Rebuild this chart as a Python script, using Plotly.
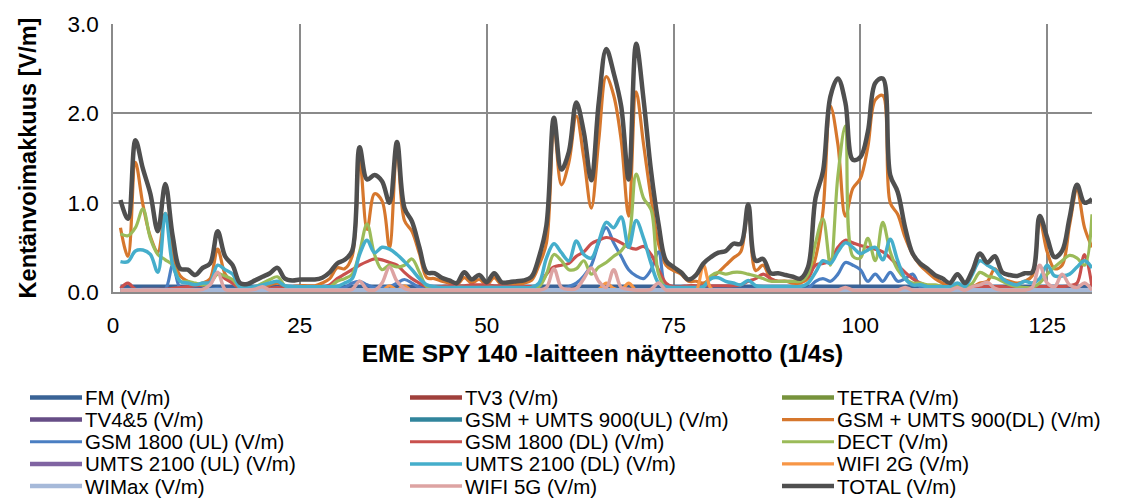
import plotly.graph_objects as go

samples = list(range(1, 132))

fm = [0.06, 0.06, 0.06, 0.06, 0.06, 0.06, 0.06, 0.06, 0.06, 0.06, 0.06, 0.06, 0.06, 0.06, 0.06, 0.06, 0.06, 0.06, 0.06, 0.06,
      0.06, 0.06, 0.06, 0.06, 0.06, 0.06, 0.06, 0.06, 0.06, 0.06, 0.06, 0.06, 0.06, 0.06, 0.06, 0.06, 0.06, 0.06, 0.06, 0.06,
      0.06, 0.06, 0.06, 0.06, 0.06, 0.06, 0.06, 0.06, 0.06, 0.06, 0.06, 0.06, 0.06, 0.06, 0.06, 0.06, 0.06, 0.06, 0.06, 0.06,
      0.06, 0.06, 0.06, 0.06, 0.06, 0.06, 0.06, 0.06, 0.06, 0.06, 0.06, 0.06, 0.06, 0.06, 0.06, 0.06, 0.06, 0.06, 0.06, 0.06,
      0.06, 0.06, 0.06, 0.06, 0.06, 0.06, 0.06, 0.06, 0.06, 0.06, 0.06, 0.06, 0.06, 0.06, 0.06, 0.06, 0.06, 0.06, 0.06, 0.06,
      0.06, 0.06, 0.06, 0.06, 0.06, 0.06, 0.06, 0.06, 0.06, 0.06, 0.06, 0.06, 0.06, 0.06, 0.06, 0.06, 0.06, 0.06, 0.06, 0.06,
      0.06, 0.06, 0.06, 0.06, 0.06, 0.06, 0.06, 0.06, 0.06, 0.06, 0.06]
tv3 = [0.01, 0.02, 0.01, 0.01, 0.01, 0.01, 0.01, 0.01, 0.01, 0.01, 0.01, 0.01, 0.01, 0.01, 0.01, 0.01, 0.01, 0.01, 0.01, 0.01,
       0.01, 0.01, 0.01, 0.01, 0.01, 0.01, 0.01, 0.01, 0.01, 0.01, 0.01, 0.01, 0.01, 0.01, 0.01, 0.01, 0.01, 0.01, 0.01, 0.01,
       0.01, 0.01, 0.01, 0.01, 0.01, 0.01, 0.01, 0.01, 0.01, 0.01, 0.01, 0.01, 0.01, 0.01, 0.01, 0.01, 0.01, 0.01, 0.01, 0.01,
       0.01, 0.01, 0.01, 0.01, 0.01, 0.01, 0.01, 0.01, 0.01, 0.01, 0.01, 0.01, 0.01, 0.01, 0.01, 0.01, 0.01, 0.01, 0.01, 0.01,
       0.01, 0.01, 0.01, 0.01, 0.01, 0.01, 0.01, 0.01, 0.01, 0.01, 0.01, 0.01, 0.01, 0.01, 0.01, 0.01, 0.01, 0.01, 0.01, 0.01,
       0.01, 0.01, 0.01, 0.01, 0.01, 0.01, 0.01, 0.01, 0.01, 0.01, 0.01, 0.01, 0.01, 0.01, 0.01, 0.01, 0.01, 0.01, 0.01, 0.01,
       0.01, 0.01, 0.01, 0.01, 0.01, 0.01, 0.01, 0.01, 0.01, 0.01, 0.01]
tetra = [0.00, 0.00, 0.00, 0.00, 0.00, 0.00, 0.00, 0.00, 0.00, 0.00, 0.00, 0.00, 0.00, 0.00, 0.00, 0.00, 0.00, 0.00, 0.00, 0.00,
         0.00, 0.00, 0.00, 0.00, 0.00, 0.00, 0.00, 0.00, 0.00, 0.00, 0.00, 0.00, 0.00, 0.00, 0.00, 0.00, 0.00, 0.00, 0.00, 0.00,
         0.00, 0.00, 0.00, 0.00, 0.00, 0.00, 0.00, 0.00, 0.00, 0.00, 0.00, 0.00, 0.00, 0.00, 0.00, 0.00, 0.00, 0.00, 0.00, 0.00,
         0.00, 0.00, 0.00, 0.00, 0.00, 0.00, 0.00, 0.00, 0.00, 0.00, 0.00, 0.00, 0.00, 0.00, 0.00, 0.00, 0.00, 0.00, 0.00, 0.00,
         0.00, 0.00, 0.00, 0.00, 0.00, 0.00, 0.00, 0.00, 0.00, 0.00, 0.00, 0.00, 0.00, 0.00, 0.00, 0.00, 0.00, 0.00, 0.00, 0.00,
         0.00, 0.00, 0.00, 0.00, 0.00, 0.00, 0.00, 0.00, 0.00, 0.00, 0.00, 0.00, 0.00, 0.00, 0.00, 0.00, 0.00, 0.00, 0.00, 0.00,
         0.00, 0.00, 0.00, 0.00, 0.00, 0.00, 0.00, 0.00, 0.00, 0.00, 0.00]
tv45 = [0.005, 0.005, 0.005, 0.005, 0.005, 0.005, 0.005, 0.005, 0.005, 0.005, 0.005, 0.005, 0.005, 0.005, 0.005, 0.005, 0.005, 0.005, 0.005, 0.005,
        0.005, 0.005, 0.005, 0.005, 0.005, 0.005, 0.005, 0.005, 0.005, 0.005, 0.005, 0.005, 0.005, 0.005, 0.005, 0.005, 0.005, 0.005, 0.005, 0.005,
        0.005, 0.005, 0.005, 0.005, 0.005, 0.005, 0.005, 0.005, 0.005, 0.005, 0.005, 0.005, 0.005, 0.005, 0.005, 0.005, 0.005, 0.005, 0.005, 0.005,
        0.005, 0.005, 0.005, 0.005, 0.005, 0.005, 0.005, 0.005, 0.005, 0.005, 0.005, 0.005, 0.005, 0.005, 0.005, 0.005, 0.005, 0.005, 0.005, 0.005,
        0.005, 0.005, 0.005, 0.005, 0.005, 0.005, 0.005, 0.005, 0.005, 0.005, 0.005, 0.005, 0.005, 0.005, 0.005, 0.005, 0.005, 0.005, 0.005, 0.005,
        0.005, 0.005, 0.005, 0.005, 0.005, 0.005, 0.005, 0.005, 0.005, 0.005, 0.005, 0.005, 0.005, 0.005, 0.005, 0.005, 0.005, 0.005, 0.005, 0.005,
        0.005, 0.005, 0.005, 0.005, 0.005, 0.005, 0.005, 0.005, 0.005, 0.005, 0.005]
gsm900_ul = [0.01, 0.01, 0.01, 0.01, 0.01, 0.01, 0.01, 0.01, 0.01, 0.01, 0.01, 0.01, 0.01, 0.01, 0.01, 0.01, 0.01, 0.01, 0.01, 0.01,
             0.01, 0.01, 0.01, 0.01, 0.01, 0.01, 0.01, 0.01, 0.01, 0.01, 0.01, 0.01, 0.01, 0.01, 0.01, 0.01, 0.01, 0.01, 0.01, 0.01,
             0.01, 0.01, 0.01, 0.01, 0.01, 0.01, 0.01, 0.01, 0.01, 0.01, 0.01, 0.01, 0.01, 0.01, 0.01, 0.01, 0.01, 0.01, 0.01, 0.01,
             0.01, 0.01, 0.01, 0.01, 0.01, 0.02, 0.01, 0.01, 0.01, 0.01, 0.01, 0.01, 0.01, 0.01, 0.01, 0.01, 0.01, 0.01, 0.01, 0.01,
             0.01, 0.01, 0.01, 0.01, 0.01, 0.01, 0.01, 0.01, 0.01, 0.01, 0.01, 0.01, 0.01, 0.01, 0.01, 0.01, 0.01, 0.01, 0.01, 0.01,
             0.01, 0.01, 0.01, 0.01, 0.01, 0.01, 0.01, 0.01, 0.01, 0.01, 0.01, 0.01, 0.01, 0.01, 0.01, 0.01, 0.01, 0.01, 0.01, 0.01,
             0.01, 0.01, 0.01, 0.01, 0.01, 0.01, 0.01, 0.01, 0.01, 0.01, 0.01]
gsm900_dl = [0.72, 0.40, 1.45, 0.98, 0.62, 0.45, 0.88, 0.42, 0.18, 0.12, 0.08, 0.10, 0.15, 0.48, 0.20, 0.10, 0.05, 0.04, 0.05, 0.06,
             0.08, 0.10, 0.07, 0.06, 0.07, 0.07, 0.07, 0.10, 0.15, 0.27, 0.26, 0.40, 1.49, 0.70, 1.10, 1.02, 0.50, 1.60, 0.80, 0.68,
             0.43, 0.16, 0.15, 0.12, 0.10, 0.08, 0.16, 0.10, 0.14, 0.08, 0.16, 0.08, 0.08, 0.09, 0.10, 0.13, 0.30, 0.55, 1.86, 1.20,
             1.45, 1.97, 1.50, 0.94, 1.70, 2.41, 2.20, 1.70, 0.85, 2.24, 1.65, 1.05, 0.54, 0.30, 0.24, 0.20, 0.12, 0.12, 0.10, 0.15,
             0.22, 0.30, 0.38, 0.45, 0.95, 0.24, 0.30, 0.15, 0.12, 0.12, 0.10, 0.10, 0.15, 0.38, 0.90, 2.08, 1.65, 0.85, 1.16, 1.27,
             1.62, 2.15, 2.20, 1.00, 0.87, 0.61, 0.42, 0.30, 0.22, 0.15, 0.10, 0.06, 0.08, 0.05, 0.06, 0.10, 0.12, 0.26, 0.15, 0.12,
             0.10, 0.12, 0.18, 0.80, 0.45, 0.26, 0.30, 0.75, 1.14, 0.72, 0.50]
gsm1800_ul = [0.03, 0.03, 0.03, 0.03, 0.03, 0.03, 0.03, 0.30, 0.04, 0.03, 0.03, 0.03, 0.03, 0.04, 0.03, 0.03, 0.03, 0.03, 0.03, 0.03,
              0.03, 0.03, 0.03, 0.03, 0.03, 0.03, 0.03, 0.03, 0.03, 0.04, 0.05, 0.10, 0.12, 0.08, 0.05, 0.05, 0.06, 0.10, 0.14, 0.10,
              0.05, 0.03, 0.03, 0.03, 0.03, 0.03, 0.03, 0.03, 0.03, 0.03, 0.03, 0.03, 0.03, 0.03, 0.03, 0.03, 0.03, 0.03, 0.03, 0.03,
              0.06, 0.10, 0.18, 0.30, 0.55, 0.72, 0.55, 0.40, 0.25, 0.18, 0.15, 0.25, 0.45, 0.04, 0.03, 0.03, 0.03, 0.03, 0.03, 0.03,
              0.03, 0.03, 0.03, 0.03, 0.03, 0.03, 0.03, 0.03, 0.03, 0.03, 0.03, 0.03, 0.04, 0.12, 0.15, 0.12, 0.20, 0.33, 0.30, 0.25,
              0.12, 0.20, 0.12, 0.22, 0.12, 0.15, 0.20, 0.06, 0.03, 0.03, 0.03, 0.03, 0.03, 0.03, 0.03, 0.03, 0.03, 0.03, 0.03, 0.03,
              0.03, 0.03, 0.03, 0.03, 0.03, 0.03, 0.03, 0.03, 0.03, 0.03, 0.03]
gsm1800_dl = [0.04, 0.10, 0.03, 0.03, 0.03, 0.03, 0.03, 0.04, 0.05, 0.06, 0.07, 0.08, 0.12, 0.21, 0.15, 0.10, 0.04, 0.03, 0.03, 0.04,
              0.04, 0.05, 0.04, 0.04, 0.04, 0.04, 0.04, 0.05, 0.08, 0.15, 0.20, 0.25, 0.30, 0.34, 0.37, 0.36, 0.33, 0.30, 0.22, 0.15,
              0.10, 0.06, 0.06, 0.06, 0.07, 0.07, 0.07, 0.08, 0.08, 0.08, 0.07, 0.07, 0.06, 0.06, 0.06, 0.06, 0.07, 0.20, 0.28, 0.30,
              0.32, 0.40, 0.45, 0.54, 0.58, 0.61, 0.59, 0.55, 0.50, 0.48, 0.51, 0.42, 0.25, 0.10, 0.06, 0.06, 0.07, 0.07, 0.07, 0.07,
              0.07, 0.07, 0.07, 0.08, 0.12, 0.15, 0.20, 0.15, 0.12, 0.12, 0.12, 0.14, 0.17, 0.30, 0.32, 0.35, 0.50, 0.58, 0.55, 0.52,
              0.50, 0.48, 0.45, 0.38, 0.30, 0.22, 0.15, 0.10, 0.07, 0.06, 0.06, 0.05, 0.05, 0.05, 0.05, 0.06, 0.06, 0.06, 0.06, 0.05,
              0.05, 0.05, 0.05, 0.06, 0.06, 0.06, 0.06, 0.07, 0.10, 0.42, 0.06]
dect = [0.65, 0.63, 0.72, 0.93, 0.60, 0.42, 0.36, 0.30, 0.12, 0.12, 0.10, 0.08, 0.10, 0.20, 0.18, 0.14, 0.05, 0.04, 0.06, 0.10,
        0.14, 0.17, 0.07, 0.04, 0.04, 0.04, 0.04, 0.04, 0.06, 0.12, 0.15, 0.20, 0.45, 0.76, 0.42, 0.25, 0.30, 0.28, 0.30, 0.37,
        0.22, 0.06, 0.04, 0.04, 0.04, 0.05, 0.05, 0.04, 0.04, 0.05, 0.05, 0.04, 0.04, 0.04, 0.04, 0.05, 0.06, 0.20, 0.42, 0.35,
        0.25, 0.26, 0.35, 0.20, 0.28, 0.33, 0.40, 0.46, 0.60, 1.32, 1.05, 0.92, 0.20, 0.05, 0.04, 0.04, 0.04, 0.04, 0.06, 0.18,
        0.22, 0.20, 0.22, 0.22, 0.20, 0.18, 0.15, 0.12, 0.12, 0.12, 0.12, 0.12, 0.20, 0.55, 0.82, 0.30, 1.30, 1.86, 0.40, 0.38,
        0.60, 0.35, 0.78, 0.45, 0.25, 0.15, 0.10, 0.10, 0.08, 0.08, 0.06, 0.05, 0.08, 0.05, 0.10, 0.22, 0.18, 0.16, 0.12, 0.08,
        0.06, 0.05, 0.05, 0.10, 0.20, 0.28, 0.35, 0.41, 0.38, 0.30, 0.87]
umts_ul = [0.00, 0.00, 0.00, 0.00, 0.00, 0.00, 0.00, 0.00, 0.00, 0.00, 0.00, 0.00, 0.00, 0.00, 0.00, 0.00, 0.00, 0.00, 0.00, 0.00,
           0.00, 0.00, 0.00, 0.00, 0.00, 0.00, 0.00, 0.00, 0.00, 0.00, 0.00, 0.00, 0.00, 0.00, 0.00, 0.00, 0.00, 0.00, 0.00, 0.00,
           0.00, 0.00, 0.00, 0.00, 0.00, 0.00, 0.00, 0.00, 0.00, 0.00, 0.00, 0.00, 0.00, 0.00, 0.00, 0.00, 0.00, 0.00, 0.00, 0.00,
           0.00, 0.00, 0.00, 0.00, 0.00, 0.00, 0.00, 0.00, 0.00, 0.00, 0.00, 0.00, 0.00, 0.00, 0.00, 0.00, 0.00, 0.00, 0.00, 0.00,
           0.00, 0.00, 0.00, 0.00, 0.00, 0.00, 0.00, 0.00, 0.00, 0.00, 0.00, 0.00, 0.00, 0.00, 0.00, 0.00, 0.00, 0.00, 0.00, 0.00,
           0.00, 0.00, 0.00, 0.00, 0.00, 0.00, 0.00, 0.00, 0.00, 0.00, 0.00, 0.00, 0.00, 0.00, 0.00, 0.00, 0.00, 0.00, 0.00, 0.00,
           0.00, 0.00, 0.00, 0.00, 0.00, 0.00, 0.00, 0.00, 0.00, 0.00, 0.00]
umts_dl = [0.34, 0.34, 0.46, 0.47, 0.42, 0.22, 0.88, 0.30, 0.12, 0.10, 0.08, 0.10, 0.11, 0.30, 0.25, 0.20, 0.05, 0.05, 0.06, 0.08,
           0.10, 0.12, 0.07, 0.06, 0.06, 0.06, 0.06, 0.06, 0.06, 0.06, 0.10, 0.15, 0.42, 0.58, 0.44, 0.50, 0.48, 0.42, 0.34, 0.25,
           0.15, 0.08, 0.06, 0.05, 0.05, 0.05, 0.05, 0.05, 0.05, 0.05, 0.05, 0.05, 0.05, 0.05, 0.05, 0.05, 0.10, 0.38, 0.54, 0.44,
           0.35, 0.57, 0.42, 0.38, 0.57, 0.78, 0.72, 0.84, 0.50, 0.80, 0.60, 0.32, 0.10, 0.06, 0.05, 0.05, 0.05, 0.05, 0.06, 0.15,
           0.16, 0.12, 0.10, 0.08, 0.13, 0.07, 0.06, 0.06, 0.06, 0.06, 0.06, 0.06, 0.10, 0.22, 0.35, 0.32, 0.45, 0.55, 0.50, 0.43,
           0.47, 0.50, 0.36, 0.59, 0.35, 0.15, 0.08, 0.08, 0.06, 0.06, 0.06, 0.06, 0.10, 0.06, 0.20, 0.35, 0.30, 0.25, 0.15, 0.10,
           0.08, 0.12, 0.10, 0.15, 0.30, 0.18, 0.18, 0.20, 0.28, 0.35, 0.27]
wifi_2g = [0.01, 0.01, 0.01, 0.01, 0.01, 0.01, 0.01, 0.01, 0.01, 0.01, 0.01, 0.01, 0.01, 0.01, 0.01, 0.01, 0.01, 0.01, 0.01, 0.01,
           0.01, 0.01, 0.01, 0.01, 0.01, 0.01, 0.01, 0.01, 0.01, 0.01, 0.01, 0.01, 0.01, 0.01, 0.01, 0.01, 0.07, 0.02, 0.07, 0.01,
           0.01, 0.01, 0.01, 0.01, 0.01, 0.01, 0.01, 0.01, 0.01, 0.01, 0.01, 0.01, 0.01, 0.01, 0.01, 0.01, 0.02, 0.01, 0.01, 0.01,
           0.01, 0.01, 0.01, 0.01, 0.03, 0.10, 0.04, 0.02, 0.10, 0.02, 0.01, 0.01, 0.01, 0.01, 0.01, 0.01, 0.01, 0.01, 0.30, 0.04,
           0.01, 0.01, 0.01, 0.01, 0.01, 0.01, 0.01, 0.01, 0.01, 0.01, 0.01, 0.01, 0.01, 0.01, 0.01, 0.01, 0.01, 0.01, 0.01, 0.01,
           0.01, 0.01, 0.01, 0.01, 0.01, 0.01, 0.01, 0.01, 0.01, 0.01, 0.01, 0.01, 0.01, 0.01, 0.01, 0.01, 0.01, 0.01, 0.01, 0.01,
           0.01, 0.01, 0.01, 0.01, 0.01, 0.01, 0.01, 0.01, 0.01, 0.01, 0.01]
wimax = [0.02, 0.02, 0.02, 0.02, 0.02, 0.02, 0.02, 0.02, 0.02, 0.02, 0.02, 0.02, 0.02, 0.02, 0.02, 0.02, 0.02, 0.02, 0.02, 0.02,
         0.02, 0.02, 0.02, 0.02, 0.02, 0.02, 0.02, 0.02, 0.02, 0.02, 0.02, 0.02, 0.02, 0.02, 0.02, 0.02, 0.02, 0.02, 0.02, 0.02,
         0.02, 0.02, 0.02, 0.02, 0.02, 0.02, 0.02, 0.02, 0.02, 0.02, 0.02, 0.02, 0.02, 0.02, 0.02, 0.02, 0.02, 0.02, 0.02, 0.02,
         0.02, 0.02, 0.02, 0.02, 0.02, 0.02, 0.02, 0.02, 0.02, 0.02, 0.02, 0.02, 0.02, 0.02, 0.02, 0.02, 0.02, 0.02, 0.02, 0.02,
         0.02, 0.02, 0.02, 0.02, 0.02, 0.02, 0.02, 0.02, 0.02, 0.02, 0.02, 0.02, 0.02, 0.02, 0.02, 0.02, 0.02, 0.02, 0.02, 0.02,
         0.02, 0.02, 0.02, 0.02, 0.02, 0.02, 0.02, 0.02, 0.02, 0.02, 0.02, 0.02, 0.02, 0.02, 0.02, 0.02, 0.02, 0.02, 0.02, 0.02,
         0.02, 0.02, 0.02, 0.02, 0.02, 0.02, 0.02, 0.02, 0.02, 0.02, 0.02]
wifi_5g = [0.02, 0.02, 0.02, 0.02, 0.02, 0.02, 0.02, 0.02, 0.02, 0.02, 0.02, 0.03, 0.08, 0.22, 0.03, 0.02, 0.02, 0.02, 0.03, 0.06,
           0.02, 0.02, 0.02, 0.02, 0.02, 0.02, 0.02, 0.02, 0.02, 0.02, 0.02, 0.03, 0.12, 0.03, 0.02, 0.10, 0.28, 0.12, 0.04, 0.02,
           0.02, 0.02, 0.02, 0.02, 0.02, 0.02, 0.02, 0.02, 0.02, 0.02, 0.02, 0.02, 0.02, 0.02, 0.02, 0.02, 0.02, 0.05, 0.26, 0.05,
           0.03, 0.04, 0.15, 0.27, 0.12, 0.05, 0.25, 0.05, 0.03, 0.02, 0.02, 0.03, 0.10, 0.02, 0.02, 0.02, 0.02, 0.02, 0.02, 0.02,
           0.02, 0.02, 0.02, 0.02, 0.02, 0.02, 0.02, 0.02, 0.02, 0.02, 0.02, 0.02, 0.02, 0.02, 0.02, 0.02, 0.02, 0.05, 0.02, 0.02,
           0.02, 0.02, 0.02, 0.02, 0.02, 0.05, 0.02, 0.02, 0.02, 0.02, 0.02, 0.02, 0.05, 0.02, 0.06, 0.08, 0.11, 0.04, 0.02, 0.02,
           0.02, 0.02, 0.05, 0.30, 0.10, 0.06, 0.20, 0.08, 0.05, 0.10, 0.02]
total = [1.03, 0.82, 1.70, 1.38, 1.10, 0.68, 1.21, 0.62, 0.26, 0.25, 0.19, 0.27, 0.32, 0.68, 0.40, 0.30, 0.10, 0.09, 0.13, 0.17,
         0.21, 0.27, 0.15, 0.13, 0.14, 0.14, 0.14, 0.16, 0.22, 0.32, 0.36, 0.46, 1.62, 1.26, 1.31, 1.24, 1.00, 1.68, 0.94, 0.79,
         0.50, 0.22, 0.21, 0.16, 0.13, 0.10, 0.22, 0.14, 0.19, 0.11, 0.21, 0.11, 0.11, 0.12, 0.13, 0.17, 0.39, 0.75, 1.95, 1.37,
         1.57, 2.12, 1.79, 1.25, 2.12, 2.72, 2.45, 2.08, 1.26, 2.78, 2.15, 1.35, 0.76, 0.35, 0.28, 0.22, 0.14, 0.19, 0.32, 0.39,
         0.44, 0.46, 0.54, 0.54, 0.98, 0.35, 0.37, 0.21, 0.21, 0.19, 0.17, 0.15, 0.28, 1.05, 1.35, 2.19, 2.39, 2.12, 1.48, 1.51,
         1.79, 2.34, 2.39, 1.31, 1.12, 0.72, 0.43, 0.32, 0.26, 0.19, 0.15, 0.10, 0.20, 0.10, 0.24, 0.43, 0.33, 0.40, 0.22, 0.19,
         0.18, 0.21, 0.22, 0.85, 0.61, 0.39, 0.46, 0.83, 1.20, 1.00, 1.04]

series_names = ["FM (V/m)", "TV3 (V/m)", "TETRA (V/m)",
                "TV4&5 (V/m)", "GSM + UMTS 900(UL) (V/m)", "GSM + UMTS 900(DL) (V/m)",
                "GSM 1800 (UL) (V/m)", "GSM 1800 (DL) (V/m)", "DECT (V/m)",
                "UMTS 2100 (UL) (V/m)", "UMTS 2100 (DL) (V/m)", "WIFI 2G (V/m)",
                "WIMax (V/m)", "WIFI 5G (V/m)", "TOTAL (V/m)"]
series_values = [fm, tv3, tetra, tv45, gsm900_ul, gsm900_dl, gsm1800_ul, gsm1800_dl, dect,
                 umts_ul, umts_dl, wifi_2g, wimax, wifi_5g, total]
series_colors = ["#3A6396", "#A0403C", "#77933C", "#664D86", "#31859C", "#D6772D",
                 "#4A7EC2", "#C9504D", "#9BBB59", "#8064A2", "#45AECB", "#F79646",
                 "#A6B9D9", "#DDA3A2", "#4F4F4F"]
series_widths = [4.5, 4.5, 4.5, 4.5, 4.5, 3.2, 3.2, 3.2, 3.2, 4.5, 3.5, 3.2, 4.5, 3.5, 4.5]

x_ticks = [0, 25, 50, 75, 100, 125]
y_ticks = [0.0, 1.0, 2.0, 3.0]

FONT = "Liberation Sans, Arial, sans-serif"

fig = go.Figure()
for name, vals, col, w in zip(series_names, series_values, series_colors, series_widths):
    fig.add_trace(go.Scatter(x=samples, y=vals, name=name, mode="lines",
                             line=dict(color=col, width=w, shape="spline", smoothing=1.0),
                             showlegend=False))

# plot area in pixels
L, R, T, B = 113, 1092, 20, 292
W, H = 1129, 501

def px_x(p):
    return (p - L) / (R - L)

def px_y(p):
    return (B - p) / (B - T)

col_line_x = [30, 410, 782]
row_y = [399, 421.5, 444, 466.5, 489]
shapes = []
annotations = []
for k, (name, col, w) in enumerate(zip(series_names, series_colors, series_widths)):
    c, r = k % 3, k // 3
    x0 = col_line_x[c]
    yy = row_y[r]
    shapes.append(dict(type="line", xref="paper", yref="paper",
                       x0=px_x(x0), x1=px_x(x0 + 52), y0=px_y(yy), y1=px_y(yy),
                       line=dict(color=col, width=w)))
    annotations.append(dict(x=px_x(x0 + 54), y=px_y(yy), xref="paper", yref="paper",
                            text=name, showarrow=False, xanchor="left", yanchor="middle",
                            borderpad=0,
                            font=dict(family=FONT, size=20.5, color="#000000")))

fig.update_layout(
    width=W, height=H, autosize=False,
    margin=dict(l=L, r=W - R, t=T, b=H - B, pad=0),
    paper_bgcolor="white", plot_bgcolor="white",
    font=dict(family=FONT, size=22, color="#000000"),
    shapes=shapes, annotations=annotations,
    showlegend=False,
)
fig.update_xaxes(range=[0, 131], tickvals=x_ticks, ticktext=[str(v) for v in x_ticks],
                 showgrid=True, gridcolor="#8A8A8A", gridwidth=1.6,
                 showline=True, linecolor="#8A8A8A", linewidth=1.6,
                 zeroline=False, ticks="", ticklabelstandoff=12,
                 tickfont=dict(family=FONT, size=22.5),
                 title=dict(text="<b>EME SPY 140 -laitteen näytteenotto (1/4s)</b>",
                            font=dict(family=FONT, size=24.5), standoff=8))
fig.update_yaxes(range=[0, 3], tickvals=y_ticks, ticktext=["%.1f" % v for v in y_ticks],
                 showgrid=True, gridcolor="#8A8A8A", gridwidth=1.6,
                 showline=True, linecolor="#8A8A8A", linewidth=1.6,
                 zeroline=False, ticks="", ticklabelstandoff=8,
                 tickfont=dict(family=FONT, size=22.5),
                 title=dict(text="<b>Kentänvoimakkuus [V/m]</b>",
                            font=dict(family=FONT, size=23.5), standoff=24))

fig.write_html("out.html")
